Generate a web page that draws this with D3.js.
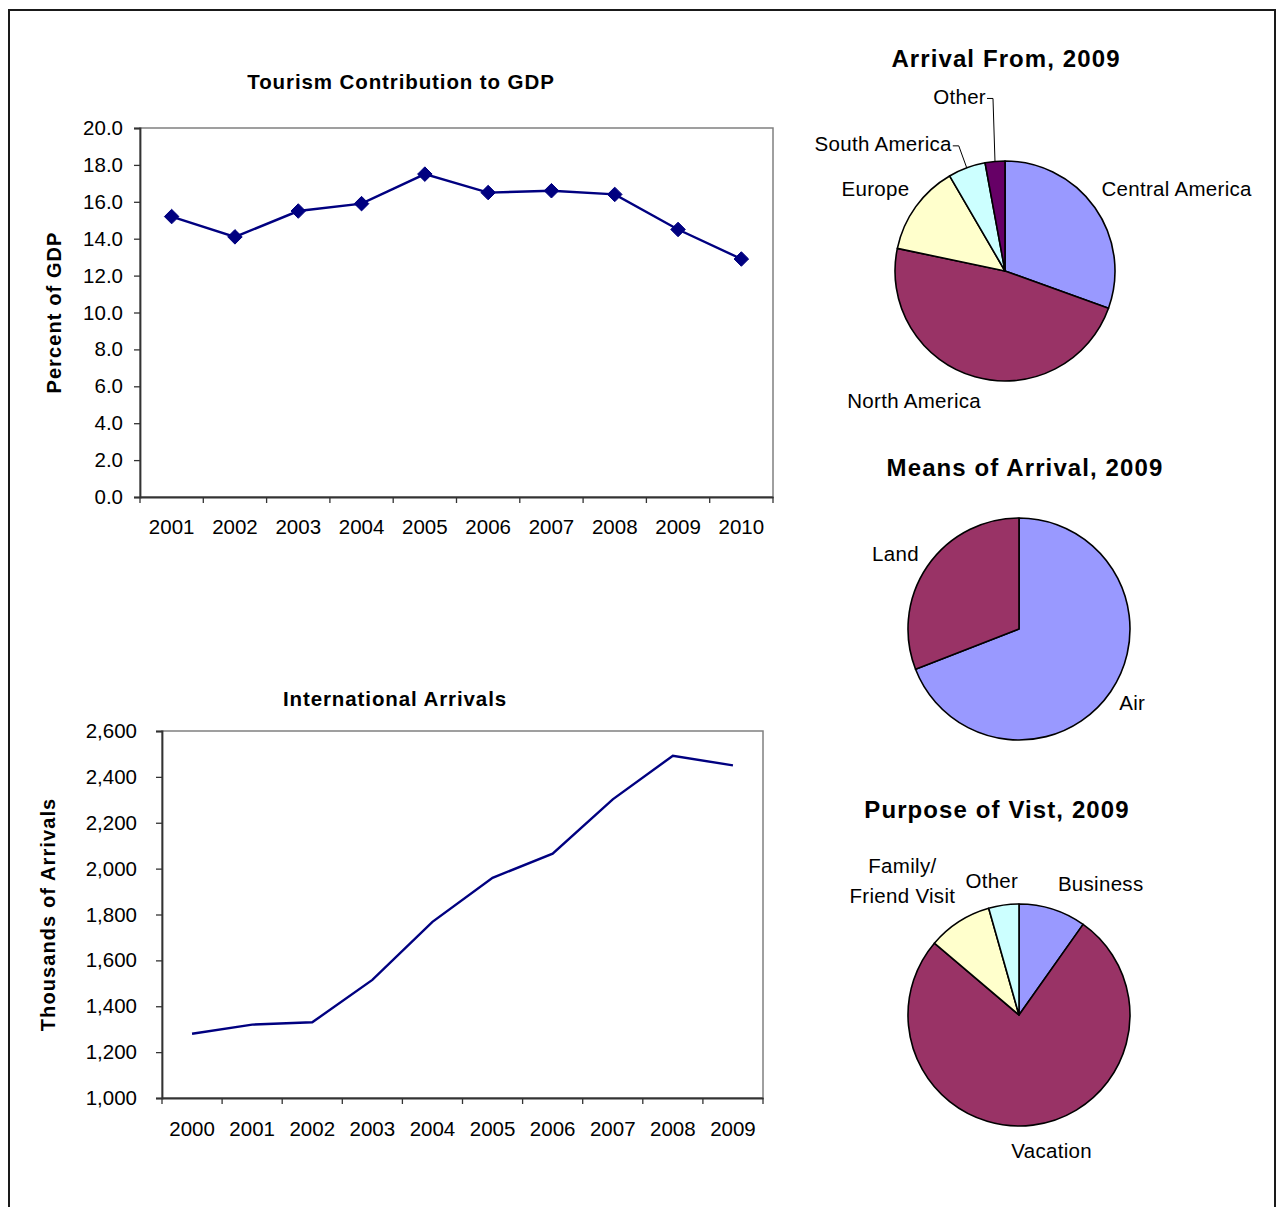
<!DOCTYPE html>
<html>
<head>
<meta charset="utf-8">
<script src="https://cdn.jsdelivr.net/npm/d3@7"></script>
<style>
  body { margin: 0; background: #fff; }
  svg { display: block; font-family: "Liberation Sans", Arial, sans-serif; }
</style>
</head>
<body>
<script>
// ---- data ----
var gdpYears = ["2001","2002","2003","2004","2005","2006","2007","2008","2009","2010"];
var gdpValues = [15.2, 14.1, 15.5, 15.9, 17.5, 16.5, 16.6, 16.4, 14.5, 12.9];
var gdpTicks = [0, 2, 4, 6, 8, 10, 12, 14, 16, 18, 20];

var arrYears = ["2000","2001","2002","2003","2004","2005","2006","2007","2008","2009"];
var arrValues = [1280, 1320, 1330, 1515, 1768, 1960, 2065, 2302, 2492, 2450];
var arrTicks = [1000, 1200, 1400, 1600, 1800, 2000, 2200, 2400, 2600];

var fromNames = ["Central America", "North America", "Europe", "South America", "Other"];
var fromValues = [30.5, 47.8, 13.3, 5.5, 2.9];

var meansNames = ["Air", "Land"];
var meansValues = [69.1, 30.9];

var purposeNames = ["Business", "Vacation", "Family/\nFriend Visit", "Other"];
var purposeValues = [9.8, 76.4, 9.4, 4.4];

var fromFill = {
  "Central America": "#9999FF", "North America": "#993366", "Europe": "#FFFFCC",
  "South America": "#CCFFFF", "Other": "#660066"
};
var meansFill = { "Air": "#9999FF", "Land": "#993366" };
var purposeFill = {
  "Business": "#9999FF", "Vacation": "#993366",
  "Family/\nFriend Visit": "#FFFFCC", "Other": "#CCFFFF"
};

var W = 1278, H = 1207;
var svg = d3.select("body").append("svg")
    .attr("width", W)
    .attr("height", H);

// outer frame (bottom edge runs off the page)
svg.append("rect")
    .attr("x", 9).attr("y", 10)
    .attr("width", 1266).attr("height", 1260)
    .attr("fill", "none")
    .attr("stroke", "#1a1a1a")
    .attr("stroke-width", 2);

// ---- line chart helper ----
function lineChart(opt) {
  var x = d3.scaleBand().domain(opt.cats).range([opt.x0, opt.x1]);
  var y = d3.scaleLinear().domain([opt.ticks[0], opt.ticks[opt.ticks.length - 1]]).range([opt.y1, opt.y0]);
  var g = svg.append("g");

  // plot area border
  g.append("rect")
      .attr("x", opt.x0).attr("y", opt.y0)
      .attr("width", opt.x1 - opt.x0).attr("height", opt.y1 - opt.y0)
      .attr("fill", "#fff").attr("stroke", "#808080").attr("stroke-width", 1.5);

  // y axis
  var yAxis = g.append("g")
      .attr("transform", "translate(" + opt.x0 + ",0)")
      .call(d3.axisLeft(y).tickValues(opt.ticks).tickSize(6).tickPadding(opt.ypad).tickFormat(opt.fmt));
  // x axis, ticks between categories
  var xAxis = g.append("g")
      .attr("transform", "translate(0," + opt.y1 + ")")
      .call(d3.axisBottom(x).tickSize(0).tickPadding(opt.xpad));
  [yAxis, xAxis].forEach(function(a) {
    a.select(".domain").attr("stroke", "#333").attr("stroke-width", 1.8);
    a.selectAll("line").attr("stroke", "#333").attr("stroke-width", 1.3);
    a.selectAll("text").attr("font-size", 20.5).attr("fill", "#000")
        .attr("font-family", "'Liberation Sans', Arial, sans-serif");
  });
  var bounds = opt.cats.map(function(c) { return x(c); }).concat([opt.x1]);
  g.selectAll(".xt").data(bounds).enter().append("line")
      .attr("x1", function(d) { return d; }).attr("x2", function(d) { return d; })
      .attr("y1", opt.y1).attr("y2", opt.y1 + 6)
      .attr("stroke", "#333").attr("stroke-width", 1.3);

  var line = d3.line()
      .x(function(d, i) { return x(opt.cats[i]) + x.bandwidth() / 2; })
      .y(function(d) { return y(d); });
  g.append("path").datum(opt.values)
      .attr("d", line)
      .attr("fill", "none").attr("stroke", "#000080").attr("stroke-width", 2.4);

  if (opt.markers) {
    g.selectAll(".mk").data(opt.values).enter().append("path")
        .attr("d", d3.symbol().type(d3.symbolDiamond2).size(135))
        .attr("transform", function(d, i) {
          return "translate(" + (x(opt.cats[i]) + x.bandwidth() / 2) + "," + y(d) + ")";
        })
        .attr("fill", "#000080").attr("stroke", "#000080").attr("stroke-width", 1);
  }

  g.append("text")
      .attr("x", opt.titleX).attr("y", opt.titleY)
      .attr("text-anchor", "middle").attr("dominant-baseline", "central")
      .attr("font-size", 20.5).attr("font-weight", "bold").attr("letter-spacing", 0.9)
      .text(opt.title);
  g.append("text")
      .attr("transform", "translate(" + opt.ylabX + "," + ((opt.y0 + opt.y1) / 2) + ") rotate(-90)")
      .attr("text-anchor", "middle").attr("dominant-baseline", "central")
      .attr("font-size", 20).attr("font-weight", "bold").attr("letter-spacing", 1.1)
      .text(opt.ylab);
}

lineChart({
  cats: gdpYears, values: gdpValues, ticks: gdpTicks,
  x0: 140, x1: 773, y0: 128, y1: 497, ypad: 11, xpad: 22,
  fmt: d3.format(".1f"), markers: true,
  title: "Tourism Contribution to GDP", titleX: 401, titleY: 81,
  ylab: "Percent of GDP", ylabX: 54
});

lineChart({
  cats: arrYears, values: arrValues, ticks: arrTicks,
  x0: 162, x1: 763, y0: 731, y1: 1098, ypad: 19, xpad: 23,
  fmt: d3.format(","), markers: false,
  title: "International Arrivals", titleX: 395, titleY: 698,
  ylab: "Thousands of Arrivals", ylabX: 48
});

// ---- pie helper ----
function pieChart(opt) {
  var data = opt.names.map(function(n, i) { return { name: n, value: opt.values[i] }; });
  var pie = d3.pie().sort(null).value(function(d) { return d.value; });
  var arcs = pie(data);
  var arc = d3.arc().innerRadius(0).outerRadius(opt.r);
  var g = svg.append("g").attr("transform", "translate(" + opt.cx + "," + opt.cy + ")");

  g.selectAll("path").data(arcs).enter().append("path")
      .attr("d", arc)
      .attr("fill", function(d) { return opt.fill[d.data.name]; })
      .attr("stroke", "#000").attr("stroke-width", 1.6).attr("stroke-linejoin", "round");

  arcs.forEach(function(a) {
    var lay = opt.labels[a.data.name];
    var mid = (a.startAngle + a.endAngle) / 2;
    var sx = Math.sin(mid), cy = -Math.cos(mid);
    var tx, ty;
    if (lay.leader) {
      var ex = sx * opt.r, ey = cy * opt.r;
      var bx = ex + lay.leader[0], by = ey + lay.leader[1];
      g.append("polyline")
          .attr("points", [[ex, ey], [bx, by], [bx - 6, by]].join(" "))
          .attr("fill", "none").attr("stroke", "#000").attr("stroke-width", 1);
      tx = bx - 7; ty = by - 2;
    } else {
      var R = opt.r + 14;
      tx = sx * R + lay.dx; ty = cy * R + lay.dy;
    }
    var lines = a.data.name.split("\n");
    var t = g.append("text")
        .attr("x", tx).attr("y", ty)
        .attr("text-anchor", lay.anchor)
        .attr("font-size", 20.5).attr("letter-spacing", 0.3);
    lines.forEach(function(l, i) {
      t.append("tspan").attr("x", tx)
          .attr("y", ty + (i - (lines.length - 1)) * 30)
          .attr("dominant-baseline", "central")
          .text(l);
    });
  });

  svg.append("text")
      .attr("x", opt.titleX).attr("y", opt.titleY)
      .attr("text-anchor", "middle").attr("dominant-baseline", "central")
      .attr("font-size", 24).attr("font-weight", "bold").attr("letter-spacing", 1.1)
      .text(opt.title);
}

pieChart({
  names: fromNames, values: fromValues, cx: 1005, cy: 271, r: 110,
  title: "Arrival From, 2009", titleX: 1006, titleY: 58,
  fill: fromFill,
  labels: {
    "Central America": { anchor: "start", dx: -5, dy: -11 },
    "North America": { anchor: "middle", dx: -57, dy: 10 },
    "Europe": { anchor: "end", dx: 5, dy: -10 },
    "South America": { anchor: "end", leader: [-8, -22] },
    "Other": { anchor: "end", leader: [-2, -63] }
  }
});

pieChart({
  names: meansNames, values: meansValues, cx: 1019, cy: 629, r: 111,
  title: "Means of Arrival, 2009", titleX: 1025, titleY: 467,
  fill: meansFill,
  labels: {
    "Air": { anchor: "start", dx: -3, dy: 3 },
    "Land": { anchor: "end", dx: 3, dy: -5 }
  }
});

pieChart({
  names: purposeNames, values: purposeValues, cx: 1019, cy: 1015, r: 111,
  title: "Purpose of Vist, 2009", titleX: 997, titleY: 809,
  fill: purposeFill,
  labels: {
    "Business": { anchor: "start", dx: 1, dy: -12 },
    "Vacation": { anchor: "middle", dx: 17, dy: 11 },
    "Family/\nFriend Visit": { anchor: "middle", dx: -49, dy: -14 },
    "Other": { anchor: "middle", dx: -10, dy: -11 }
  }
});
</script>
</body>
</html>
